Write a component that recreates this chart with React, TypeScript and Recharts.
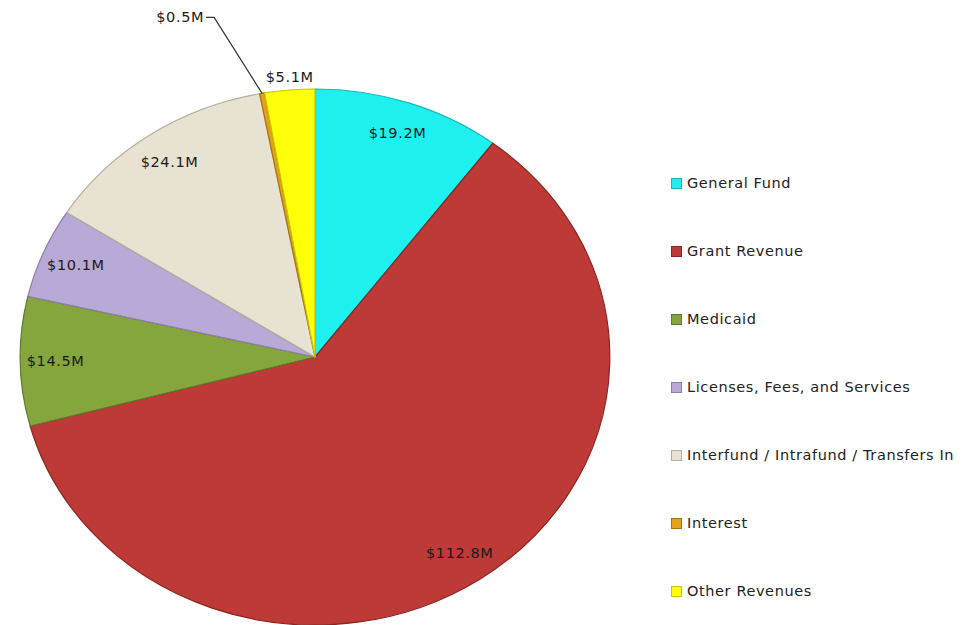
import React, { useEffect } from 'react';
import { PieChart, Pie, Cell, Legend } from 'recharts';

const categories = [
  'General Fund',
  'Grant Revenue',
  'Medicaid',
  'Licenses, Fees, and Services',
  'Interfund / Intrafund / Transfers In',
  'Interest',
  'Other Revenues',
];
const amounts = [19.2, 112.8, 14.5, 10.1, 24.1, 0.5, 5.1];
const colors = ['#1EF0F0', '#BE3A36', '#84A63C', '#B8A9D6', '#E7E2D1', '#E5A01A', '#FFFF0A'];
const strokes = ['#17B8B8', '#8A2522', '#5F7A2A', '#8E80A8', '#B5AF9C', '#A8730F', '#C8C800'];

const chartData = categories.map((name, i) => ({ name, value: amounts[i] }));

const STRETCH = 1.1; // pie is drawn as a slightly wide ellipse
const FONT = '"DejaVu Sans", sans-serif';
const RAD = Math.PI / 180;

function pt(cx: number, cy: number, rx: number, ry: number, deg: number) {
  return [cx + rx * Math.cos(deg * RAD), cy - ry * Math.sin(deg * RAD)];
}

function EllipseSector(props: any) {
  const { cx, cy, outerRadius, startAngle, endAngle, fill, stroke } = props;
  const rx = outerRadius * STRETCH;
  const ry = outerRadius;
  const [x1, y1] = pt(cx, cy, rx, ry, startAngle);
  const [x2, y2] = pt(cx, cy, rx, ry, endAngle);
  const large = Math.abs(endAngle - startAngle) > 180 ? 1 : 0;
  const sweep = endAngle < startAngle ? 1 : 0;
  const d = `M${cx},${cy} L${x1},${y1} A${rx},${ry} 0 ${large} ${sweep} ${x2},${y2} Z`;
  return <path d={d} fill={fill} stroke={stroke} strokeWidth={1.2} strokeLinejoin="round" />;
}

function SliceLabel(props: any) {
  const { cx, cy, outerRadius, midAngle, value } = props;
  const rx = outerRadius * STRETCH;
  const ry = outerRadius;
  const text = `$${value.toFixed(1)}M`;
  const style = { fontFamily: FONT, fontSize: 14.5, letterSpacing: 0.6, fill: '#1a1a1a' };
  if (value < 1) {
    const [ex, ey] = pt(cx, cy, rx, ry, midAngle);
    const bx = ex - 48;
    const by = ey - 76;
    return (
      <g>
        <polyline points={`${ex},${ey} ${bx},${by} ${bx - 8},${by}`} fill="none" stroke="#333" strokeWidth={1.2} />
        <text x={bx - 10} y={by} textAnchor="end" dominantBaseline="central" {...style}>{text}</text>
      </g>
    );
  }
  if (value < 8) {
    const [ex, ey] = pt(cx, cy, rx, ry, midAngle);
    return (
      <text x={ex} y={ey - 13} textAnchor="middle" dominantBaseline="central" {...style}>{text}</text>
    );
  }
  const [lx, ly] = pt(cx, cy, rx * 0.88, ry * 0.88, midAngle);
  return (
    <text x={lx} y={ly} textAnchor="middle" dominantBaseline="central" {...style}>{text}</text>
  );
}

function LegendList() {
  return (
    <div style={{ fontFamily: FONT, fontSize: 14.5, letterSpacing: 0.6, color: '#222' }}>
      {categories.map((c, i) => (
        <div key={c} style={{ display: 'flex', alignItems: 'center', height: 68 }}>
          <span
            style={{
              display: 'inline-block',
              width: 9,
              height: 9,
              background: colors[i],
              border: `1px solid ${strokes[i]}`,
              marginRight: 5,
            }}
          />
          <span>{c}</span>
        </div>
      ))}
    </div>
  );
}

export default function App() {
  useEffect(() => {
    document.body.style.margin = '0';
  }, []);

  return (
    <div style={{ width: 973, height: 625, background: '#fff' }}>
      <PieChart width={973} height={625}>
        <Pie
          data={chartData}
          dataKey="value"
          nameKey="name"
          cx={310}
          cy={352}
          outerRadius={268}
          startAngle={90}
          endAngle={-270}
          shape={EllipseSector}
          label={SliceLabel}
          labelLine={false}
          isAnimationActive={false}
        >
          {chartData.map((d, i) => (
            <Cell key={d.name} fill={colors[i]} stroke={strokes[i]} />
          ))}
        </Pie>
        <Legend
          layout="vertical"
          verticalAlign="top"
          align="right"
          content={() => <LegendList />}
          wrapperStyle={{ position: 'absolute', left: 671, top: 149, width: 300 }}
        />
      </PieChart>
    </div>
  );
}
